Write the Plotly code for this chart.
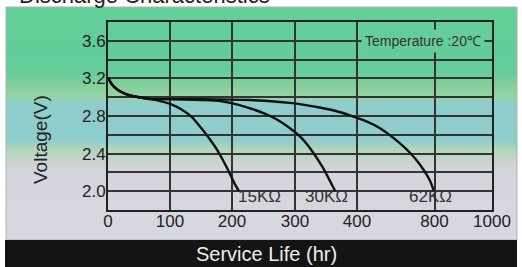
import numpy as np
import plotly.graph_objects as go

# ---------------- data ----------------
hours_15k = [0, 5, 10, 20, 35, 50, 70, 100, 116, 135, 148, 160, 175, 191, 205, 211]
volts_15k = [3.21, 3.15, 3.11, 3.06, 3.02, 3.00, 2.98, 2.93, 2.88, 2.79, 2.69, 2.59, 2.45, 2.26, 2.07, 2.00]

hours_30k = [0, 5, 10, 20, 35, 50, 70, 100, 150, 181, 197, 220, 250, 272, 292, 310, 324, 345, 361, 365]
volts_30k = [3.21, 3.15, 3.11, 3.06, 3.02, 3.00, 2.98, 2.98, 2.97, 2.96, 2.94, 2.90, 2.83, 2.76, 2.67, 2.57, 2.46, 2.25, 2.05, 2.00]

hours_62k = [0, 5, 10, 20, 35, 50, 70, 100, 150, 229, 292, 340, 373, 400, 452, 519, 586, 648, 699, 746, 777, 797]
volts_62k = [3.21, 3.15, 3.11, 3.06, 3.02, 3.00, 2.98, 2.98, 2.98, 2.97, 2.94, 2.89, 2.84, 2.78, 2.74, 2.67, 2.57, 2.46, 2.35, 2.22, 2.11, 2.00]

series_names = ["15KΩ", "30KΩ", "62KΩ"]

x_tick_hours = [0, 100, 200, 300, 400, 800, 1000]
x_tick_labels = ["0", "100", "200", "300", "400", "800", "1000"]
y_tick_values = [1.8, 2.0, 2.2, 2.4, 2.6, 2.8, 3.0, 3.2, 3.4, 3.6, 3.8]
y_tick_labels = ["", "2.0", "", "2.4", "", "2.8", "", "3.2", "", "3.6", ""]

# ---------------- the chart's non-uniform hour scale ----------------
# axis position (drawing units) of each labelled hour value
AXIS_POS = [0, 62, 124, 187, 249, 326.5, 384]


def hour_scale(h):
    return np.interp(h, x_tick_hours, AXIS_POS)


# ---------------- layout geometry helpers ----------------
W, H = 522, 267
L, R, T, B = 108, 492, 22, 210


def px(xp):
    return (xp - L) / (R - L)


def py(yp):
    return (B - yp) / (B - T)


fig = go.Figure()

for hrs, vs, name in [(hours_15k, volts_15k, series_names[0]),
                      (hours_30k, volts_30k, series_names[1]),
                      (hours_62k, volts_62k, series_names[2])]:
    fig.add_trace(go.Scatter(
        x=hour_scale(hrs), y=vs, mode="lines", name=name,
        line=dict(color="#111111", width=2.4, shape="spline", smoothing=0.6),
        showlegend=False, hoverinfo="skip"))

# ---------------- background panel gradient ----------------
stops = [
    (7, (98, 206, 152)),
    (72, (100, 205, 153)),
    (88, (138, 208, 156)),
    (98, (150, 210, 172)),
    (104, (142, 205, 204)),
    (140, (144, 205, 206)),
    (150, (178, 214, 186)),
    (160, (200, 212, 202)),
    (170, (212, 212, 220)),
    (240, (216, 216, 226)),
]
shapes = []
ys = [s[0] for s in stops]
cols = np.array([s[1] for s in stops], dtype=float)
step = 3
for y0 in range(7, 240, step):
    y1 = min(y0 + step, 240)
    ym = (y0 + y1) / 2
    c = [int(round(np.interp(ym, ys, cols[:, k]))) for k in range(3)]
    shapes.append(dict(type="rect", xref="paper", yref="paper", layer="below",
                       x0=px(6), x1=px(517), y0=py(y1 + 0.5), y1=py(y0),
                       line=dict(width=0), fillcolor=f"rgb({c[0]},{c[1]},{c[2]})"))
# panel border
shapes.append(dict(type="rect", xref="paper", yref="paper", layer="below",
                   x0=px(6), x1=px(517), y0=py(240), y1=py(7),
                   line=dict(width=1, color="#b0b0b0"), fillcolor="rgba(0,0,0,0)"))
# black band at the bottom
shapes.append(dict(type="rect", xref="paper", yref="paper", layer="below",
                   x0=px(5), x1=px(517), y0=py(268), y1=py(240),
                   line=dict(width=0), fillcolor="#141414"))

annotations = [
    dict(text="Discharge Characteristics", xref="paper", yref="paper",
         x=px(17), y=py(-5), xanchor="left", yanchor="middle", showarrow=False,
         font=dict(size=22, color="#222222", family="Liberation Sans")),
    dict(text="Voltage(V)", xref="paper", yref="paper", x=px(40), y=py(140),
         xanchor="center", yanchor="middle", textangle=-90, showarrow=False,
         font=dict(size=19, color="#222222", family="Liberation Sans")),
    dict(text="Service Life (hr)", xref="paper", yref="paper", x=px(266), y=py(254),
         xanchor="center", yanchor="middle", showarrow=False,
         font=dict(size=20, color="#eeeeee", family="Liberation Sans")),
    dict(text="Temperature :20℃", xref="x", yref="y", x=315, y=3.6,
         xanchor="center", yanchor="middle", showarrow=False, bgcolor="rgb(100,205,153)",
         borderpad=3, font=dict(size=14, color="#333333", family="Liberation Sans")),
]
label_shift = [-3, -9, -3]
label_anchor = ["left", "center", "center"]
for hrs, vs, name, sh, anc in zip([hours_15k, hours_30k, hours_62k],
                                  [volts_15k, volts_30k, volts_62k],
                                  series_names, label_shift, label_anchor):
    annotations.append(dict(text=name, xref="x", yref="y", x=float(hour_scale(hrs[-1])),
                            y=vs[-1], yshift=-5, xshift=sh, xanchor=anc, yanchor="middle",
                            showarrow=False,
                            font=dict(size=17, color="#333333", family="Liberation Sans")))

fig.update_layout(
    width=W, height=H,
    margin=dict(l=L, r=W - R, t=T, b=H - B, pad=0),
    paper_bgcolor="white", plot_bgcolor="rgba(0,0,0,0)",
    shapes=shapes, annotations=annotations,
    font=dict(family="Liberation Sans", color="#222222"),
)
fig.update_xaxes(range=[0, 384], tickvals=hour_scale(x_tick_hours), ticktext=x_tick_labels,
                 showgrid=True, gridcolor="#333333", gridwidth=1.6, zeroline=False,
                 showline=True, mirror=True, linecolor="#222222", linewidth=2,
                 ticks="", ticklabelstandoff=-5,
                 tickfont=dict(size=17, color="#222222"), fixedrange=True)
fig.update_yaxes(range=[1.8, 3.8], tickvals=y_tick_values, ticktext=y_tick_labels,
                 showgrid=True, gridcolor="#333333", gridwidth=1.6, zeroline=False,
                 showline=True, mirror=True, linecolor="#222222", linewidth=2,
                 ticks="", ticklabelstandoff=-3,
                 tickfont=dict(size=17, color="#222222"), fixedrange=True)

fig.write_html("out.html", config={"displayModeBar": False},
               post_script="document.body.style.margin='0px';document.body.style.overflow='hidden';")
